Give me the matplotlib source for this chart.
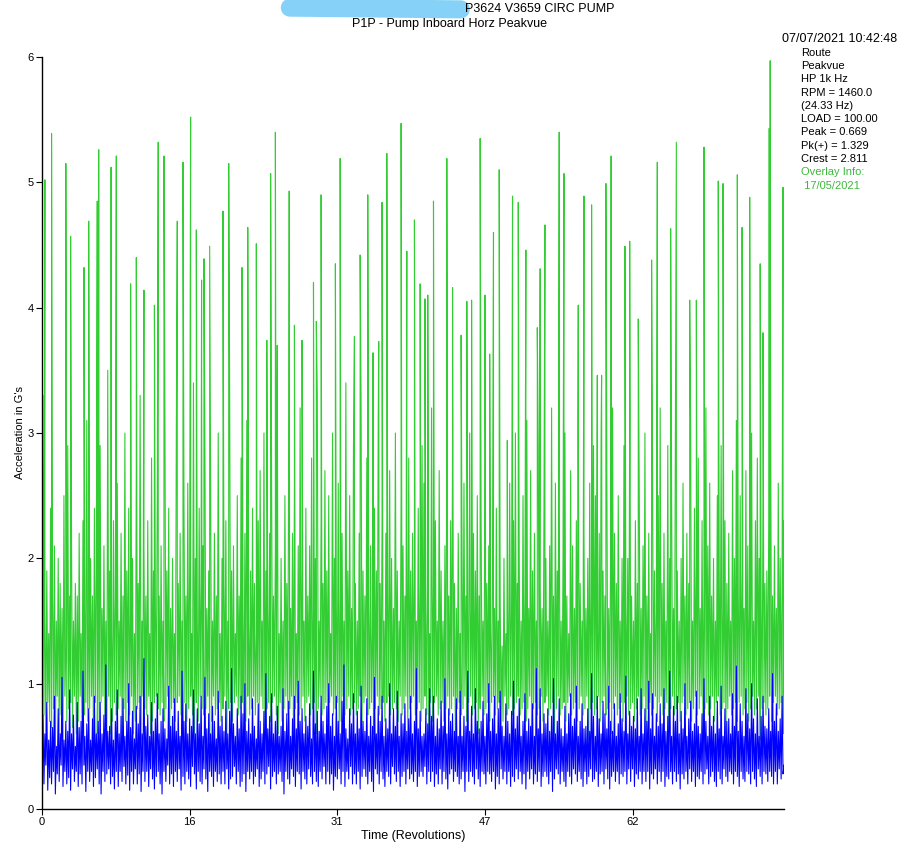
import numpy as np
import matplotlib
matplotlib.use("Agg")
import matplotlib.pyplot as plt
from matplotlib.lines import Line2D

plt.rcParams['font.family'] = ['Liberation Sans', 'DejaVu Sans']

# sample spacing of the typed waveforms (revolutions)
sample_step = 0.1

# green overlay (17/05/2021) body of the waveform, in centi-G, one row per revolution
green_body_cg = [
    60, 330, 75, 160, 55, 190, 85, 140, 70, 240,
    65, 170, 80, 210, 50, 150, 90, 200, 60, 180,
    75, 160, 55, 250, 90, 130, 70, 290, 80, 170,
    85, 210, 65, 150, 90, 180, 60, 170, 70, 220,
    90, 140, 60, 230, 75, 160, 85, 310, 70, 150,
    80, 200, 90, 170, 55, 240, 85, 190, 60, 140,
    70, 290, 85, 160, 90, 210, 75, 150, 50, 350,
    90, 190, 60, 140, 70, 230, 85, 170, 75, 260,
    80, 150, 90, 220, 55, 170, 80, 300, 70, 190,
    85, 240, 75, 160, 90, 200, 60, 140, 70, 270,
    80, 180, 85, 330, 55, 150, 90, 210, 80, 170,
    75, 230, 90, 140, 60, 280, 70, 190, 85, 160,
    90, 250, 80, 170, 75, 210, 85, 150, 70, 320,
    80, 190, 90, 240, 55, 160, 80, 200, 85, 140,
    70, 300, 85, 180, 90, 220, 75, 150, 60, 250,
    85, 170, 70, 260, 80, 190, 90, 140, 75, 340,
    60, 200, 85, 150, 70, 240, 90, 180, 80, 210,
    75, 290, 80, 160, 90, 190, 55, 260, 70, 150,
    90, 220, 75, 170, 80, 300, 85, 140, 70, 200,
    80, 180, 90, 230, 60, 150, 80, 330, 85, 190,
    70, 210, 85, 140, 90, 250, 75, 170, 80, 280,
    85, 160, 60, 220, 70, 310, 90, 150, 75, 190,
    80, 240, 90, 180, 75, 140, 85, 230, 70, 270,
    90, 150, 80, 300, 55, 190, 80, 160, 85, 220,
    70, 270, 85, 170, 90, 210, 75, 340, 60, 140,
    85, 200, 70, 150, 80, 250, 90, 180, 75, 290,
    80, 160, 90, 220, 55, 260, 80, 140, 85, 210,
    75, 320, 80, 190, 90, 150, 70, 240, 85, 170,
    90, 210, 75, 280, 80, 160, 85, 200, 60, 330,
    80, 150, 90, 230, 75, 180, 80, 270, 85, 190,
    70, 250, 85, 140, 90, 300, 75, 200, 80, 160,
    85, 260, 60, 170, 70, 220, 90, 150, 75, 340,
    80, 190, 90, 250, 75, 160, 80, 290, 85, 180,
    75, 150, 80, 220, 90, 320, 70, 190, 85, 170,
    90, 280, 75, 160, 80, 210, 85, 140, 60, 240,
    80, 190, 90, 310, 75, 180, 80, 230, 85, 150,
    70, 220, 85, 170, 90, 270, 75, 200, 80, 160,
    85, 300, 80, 190, 70, 150, 90, 250, 75, 210,
    80, 170, 90, 230, 55, 280, 80, 190, 85, 220,
    90, 200, 75, 150, 80, 240, 85, 180, 70, 290,
    80, 260, 90, 160, 75, 210, 60, 140, 85, 320,
    70, 180, 85, 230, 90, 150, 75, 270, 80, 190,
    85, 150, 70, 210, 80, 300, 90, 170, 75, 230,
    80, 290, 90, 180, 55, 160, 80, 220, 85, 140,
    75, 200, 80, 260, 90, 170, 70, 150, 85, 300,
    90, 160, 75, 220, 80, 190, 85, 250, 60, 170,
    80, 230, 90, 150, 75, 280, 80, 180, 85, 210,
    70, 140, 85, 190, 90, 160, 75, 240, 80, 150,
    85, 170, 60, 130, 70, 200, 90, 140, 75, 160,
    80, 260, 90, 160, 75, 230, 80, 300, 85, 180,
    90, 200, 75, 150, 80, 250, 85, 170, 70, 310,
    80, 160, 90, 270, 55, 190, 80, 220, 85, 150,
    75, 290, 80, 180, 90, 160, 70, 240, 85, 200,
    90, 150, 75, 210, 80, 320, 85, 170, 60, 260,
    80, 190, 90, 240, 75, 150, 80, 200, 85, 300,
    70, 170, 85, 140, 90, 270, 75, 210, 80, 160,
    85, 230, 70, 310, 80, 180, 90, 150, 75, 220,
    80, 160, 90, 200, 55, 260, 80, 170, 85, 290,
    75, 250, 80, 150, 90, 220, 70, 300, 85, 190,
    90, 170, 75, 270, 80, 160, 85, 210, 60, 320,
    80, 220, 90, 180, 75, 250, 80, 150, 85, 200,
    70, 290, 85, 160, 90, 200, 75, 310, 80, 170,
    85, 150, 70, 230, 80, 180, 90, 260, 75, 160,
    80, 210, 90, 300, 55, 170, 80, 220, 85, 140,
    75, 270, 80, 190, 90, 160, 70, 250, 85, 320,
    90, 180, 75, 220, 80, 150, 85, 290, 60, 200,
    80, 250, 90, 160, 75, 310, 80, 190, 85, 150,
    70, 200, 85, 260, 90, 170, 75, 220, 80, 180,
    85, 300, 70, 150, 80, 240, 90, 200, 75, 280,
    80, 160, 90, 230, 55, 180, 80, 320, 85, 210,
    75, 260, 80, 170, 90, 200, 70, 150, 85, 250,
    90, 190, 75, 290, 80, 160, 85, 230, 60, 180,
    80, 220, 90, 150, 75, 270, 80, 200, 85, 310,
    70, 170, 85, 250, 90, 190, 75, 160, 80, 270,
    85, 210, 70, 180, 80, 300, 90, 150, 75, 230,
    80, 280, 90, 200, 55, 160, 80, 250, 85, 180,
    75, 190, 80, 230, 90, 310, 70, 170, 85, 210,
    90, 160, 75, 260, 80, 200, 85, 180, 60, 230,
]

# tall green spikes: position (rev) and height (G)
green_spike_rev = [
    0.3, 1.0, 2.5, 3.0, 4.4, 4.9, 5.8, 5.95, 7.25, 7.8,
    9.3, 9.9, 10.7, 11.8, 12.2, 12.8, 14.2, 14.8, 15.6, 16.2,
    16.75, 17.0, 17.6, 19.0, 19.6, 21.0, 21.6, 22.5, 23.6, 24.0,
    24.5, 24.7, 25.95, 26.5, 27.3, 28.5, 28.8, 29.3, 30.8, 31.3,
    32.8, 33.4, 34.2, 34.75, 35.35, 35.7, 36.2, 37.7, 38.3, 39.1,
    39.7, 40.2, 40.5, 41.1, 42.5, 43.1, 44.0, 44.6, 45.1, 46.0,
    46.5, 47.0, 47.4, 48.0, 48.85, 49.4, 50.0, 50.8, 52.0, 52.3,
    52.8, 54.3, 54.8, 56.3, 56.9, 57.7, 58.3, 58.75, 59.2, 59.75,
    61.2, 61.7, 62.6, 64.0, 64.6, 66.0, 66.6, 68.0, 68.7, 69.5,
    71.0, 71.5, 73.0, 73.5, 74.3, 75.4, 75.7, 76.35, 76.45, 77.8,
]
green_spike_val = [
    5.02, 5.39, 5.15, 4.57, 4.32, 4.69, 4.85, 5.26, 5.12, 5.21,
    4.19, 4.40, 4.14, 4.02, 5.32, 5.21, 4.69, 5.16, 5.52, 4.62,
    4.22, 4.39, 4.49, 4.77, 5.15, 4.32, 4.64, 4.51, 3.74, 5.07,
    5.40, 3.70, 4.93, 3.86, 3.74, 4.20, 3.89, 4.90, 4.35, 5.19,
    3.77, 4.42, 4.90, 3.64, 3.73, 4.84, 5.23, 5.47, 4.45, 4.70,
    4.19, 4.07, 4.10, 4.85, 5.19, 4.16, 3.78, 4.05, 4.06, 5.35,
    4.10, 3.63, 4.60, 5.10, 2.94, 4.89, 4.84, 4.46, 3.84, 4.31,
    4.66, 5.40, 5.07, 4.02, 4.89, 4.82, 3.46, 3.46, 4.99, 5.21,
    4.49, 4.53, 3.91, 4.38, 5.16, 4.63, 5.32, 4.06, 4.06, 5.28,
    5.01, 4.99, 5.06, 4.64, 4.88, 4.35, 3.80, 5.43, 5.97, 4.96,
]

# blue: current reading (07/07/2021), centi-G, one row per revolution
blue_cg = [
    30, 75, 20, 60, 35, 85, 15, 55, 25, 70,
    20, 65, 30, 90, 12, 50, 28, 80, 22, 60,
    35, 105, 18, 55, 30, 70, 20, 62, 25, 95,
    15, 60, 32, 75, 22, 50, 30, 85, 18, 65,
    28, 70, 20, 110, 35, 58, 14, 68, 30, 80,
    22, 55, 30, 72, 18, 90, 25, 60, 32, 70,
    20, 85, 12, 60, 30, 75, 22, 115, 28, 62,
    32, 66, 20, 80, 26, 55, 16, 70, 30, 95,
    18, 60, 30, 74, 22, 88, 34, 58, 20, 70,
    27, 100, 15, 65, 30, 78, 20, 56, 32, 82,
    20, 68, 28, 90, 14, 60, 30, 120, 22, 66,
    30, 75, 18, 58, 32, 85, 24, 62, 16, 72,
    26, 92, 30, 60, 20, 70, 12, 80, 30, 64,
    22, 56, 35, 98, 20, 66, 28, 74, 18, 88,
    30, 62, 22, 78, 32, 58, 15, 110, 26, 70,
    20, 84, 30, 60, 24, 72, 18, 66, 34, 95,
    28, 60, 16, 80, 30, 68, 22, 90, 20, 58,
    32, 105, 24, 64, 14, 76, 30, 60, 26, 82,
    18, 70, 30, 56, 22, 94, 28, 66, 20, 74,
    30, 62, 20, 86, 32, 60, 16, 78, 24, 112,
    26, 68, 34, 58, 20, 80, 30, 64, 18, 90,
    22, 76, 28, 100, 14, 62, 30, 72, 24, 60,
    30, 88, 20, 66, 26, 56, 32, 84, 18, 70,
    24, 60, 30, 78, 20, 108, 28, 64, 34, 74,
    16, 92, 26, 60, 30, 70, 20, 82, 28, 58,
    30, 66, 22, 96, 12, 62, 30, 76, 24, 86,
    20, 58, 32, 72, 26, 90, 18, 64, 30, 102,
    28, 70, 16, 80, 30, 60, 24, 74, 20, 66,
    32, 84, 26, 56, 20, 110, 30, 68, 22, 78,
    18, 62, 30, 90, 24, 70, 34, 60, 20, 82,
    30, 100, 20, 66, 28, 76, 15, 58, 26, 90,
    24, 70, 32, 60, 20, 86, 30, 115, 18, 64,
    30, 56, 24, 80, 34, 68, 20, 92, 28, 60,
    20, 78, 30, 64, 16, 98, 26, 70, 32, 62,
    26, 88, 20, 58, 30, 74, 22, 66, 14, 105,
    32, 60, 28, 82, 20, 70, 30, 90, 24, 58,
    18, 72, 30, 64, 26, 100, 20, 60, 34, 80,
    28, 66, 22, 94, 30, 58, 18, 76, 26, 68,
    30, 84, 20, 62, 32, 72, 24, 90, 28, 60,
    22, 70, 30, 112, 18, 64, 26, 78, 30, 58,
    26, 60, 34, 80, 20, 68, 30, 96, 22, 74,
    30, 90, 18, 58, 28, 72, 20, 64, 32, 86,
    20, 66, 30, 104, 24, 60, 16, 80, 28, 70,
    32, 76, 22, 62, 30, 88, 26, 58, 20, 94,
    24, 58, 30, 74, 14, 66, 30, 110, 22, 62,
    30, 82, 26, 60, 20, 96, 32, 70, 24, 64,
    18, 70, 30, 86, 28, 58, 20, 76, 30, 100,
    28, 62, 22, 72, 30, 90, 16, 60, 26, 80,
    20, 94, 32, 66, 24, 58, 30, 84, 20, 70,
    30, 60, 18, 78, 26, 102, 22, 64, 32, 74,
    24, 88, 30, 58, 20, 70, 28, 92, 16, 62,
    30, 72, 24, 66, 32, 84, 20, 58, 28, 112,
    22, 64, 30, 96, 18, 60, 26, 76, 30, 68,
    26, 80, 20, 62, 30, 74, 14, 104, 24, 60,
    32, 70, 28, 88, 20, 64, 30, 58, 22, 82,
    18, 60, 30, 76, 26, 92, 20, 66, 32, 72,
    28, 98, 22, 58, 30, 70, 24, 84, 18, 64,
    30, 66, 20, 80, 26, 62, 32, 108, 22, 74,
    24, 58, 30, 90, 18, 72, 28, 60, 30, 86,
    20, 76, 32, 64, 24, 98, 16, 70, 26, 62,
    30, 84, 22, 58, 30, 68, 20, 92, 28, 72,
    26, 62, 30, 106, 20, 60, 32, 78, 22, 66,
    32, 74, 18, 64, 28, 88, 24, 58, 30, 96,
    20, 60, 30, 80, 22, 70, 30, 102, 16, 64,
    28, 92, 24, 58, 32, 76, 20, 66, 30, 84,
    22, 68, 30, 96, 18, 62, 26, 74, 24, 110,
    30, 58, 20, 82, 30, 70, 22, 90, 28, 60,
    16, 78, 28, 64, 24, 100, 30, 58, 20, 72,
    32, 86, 22, 62, 30, 68, 18, 94, 26, 66,
    24, 60, 30, 76, 20, 104, 28, 70, 32, 58,
    20, 90, 26, 66, 30, 74, 22, 60, 18, 86,
    30, 64, 24, 98, 20, 58, 32, 80, 26, 70,
    22, 72, 30, 60, 28, 92, 20, 66, 30, 114,
    26, 62, 18, 84, 30, 70, 24, 58, 22, 96,
    30, 76, 28, 64, 20, 100, 30, 72, 24, 60,
    18, 88, 32, 58, 26, 74, 20, 90, 30, 66,
    28, 64, 22, 80, 30, 62, 26, 108, 20, 70,
    30, 84, 20, 62, 32, 72, 24, 90, 28, 35,
]

x_tick_pos = [0, 15.5, 31, 46.5, 62]
x_tick_labels = ['0', '16', '31', '47', '62']
y_ticks = [0, 1, 2, 3, 4, 5, 6]

info_lines = ['Route', 'Peakvue', 'HP 1k Hz', 'RPM = 1460.0', '(24.33 Hz)',
              'LOAD = 100.00', 'Peak = 0.669', 'Pk(+) = 1.329', 'Crest = 2.811']
overlay_lines = ['Overlay Info:', ' 17/05/2021']

GREEN = '#32CD32'
BLUE = '#0000FF'

# merge body samples and tall spikes into one time-ordered waveform
body_x = np.arange(len(green_body_cg)) * sample_step
gx = np.concatenate([body_x, np.array(green_spike_rev)])
gy = np.concatenate([np.array(green_body_cg) / 100.0, np.array(green_spike_val)])
order = np.argsort(gx, kind='stable')
gx, gy = gx[order], gy[order]

bx = np.arange(len(blue_cg)) * sample_step
by = np.array(blue_cg) / 100.0

fig = plt.figure(figsize=(9, 8.5), dpi=100)
ax = fig.add_axes([0.0467, 0.0482, 0.8244, 0.8848])

ax.plot(gx, gy, color=GREEN, linewidth=0.8)
ax.plot(bx, by, color=BLUE, linewidth=0.8)

ax.set_xlim(0, 77.9)
ax.set_ylim(0, 6)
ax.set_xticks(x_tick_pos)
ax.set_xticklabels(x_tick_labels)
ax.set_yticks(y_ticks)
ax.tick_params(axis='both', labelsize=8, length=4, width=0.8, pad=2, direction='out')
for s in ['top', 'right']:
    ax.spines[s].set_visible(False)
for s in ['left', 'bottom']:
    ax.spines[s].set_linewidth(1.0)
ax.set_xlabel('Time (Revolutions)', fontsize=9, labelpad=2)
ax.set_ylabel("Acceleration in G's", fontsize=8)
ax.yaxis.set_label_coords(-0.023, 0.5)

# titles (first one partly covered by a redaction scribble)
fig.add_artist(Line2D([0.322, 0.512], [0.991, 0.989], transform=fig.transFigure,
                      color='#7fcff7', linewidth=13, solid_capstyle='round', alpha=0.95))
fig.text(0.6, 0.997, 'P3624 V3659 CIRC PUMP', ha='center', va='top', fontsize=9)
fig.text(0.5, 0.979, 'P1P - Pump Inboard Horz Peakvue', ha='center', va='top', fontsize=9)

# info panel on the right
fig.text(0.997, 0.961, '07/07/2021 10:42:48', ha='right', va='top', fontsize=9)
y0 = 0.944
dy = 0.01565
for i, line in enumerate(info_lines):
    fig.text(0.89, y0 - i * dy, line, ha='left', va='top', fontsize=8)
for j, line in enumerate(overlay_lines):
    fig.text(0.89, y0 - (len(info_lines) + j) * dy, line, ha='left', va='top',
             fontsize=8, color='#3cb83c')

fig.savefig('out.png', dpi=100)
